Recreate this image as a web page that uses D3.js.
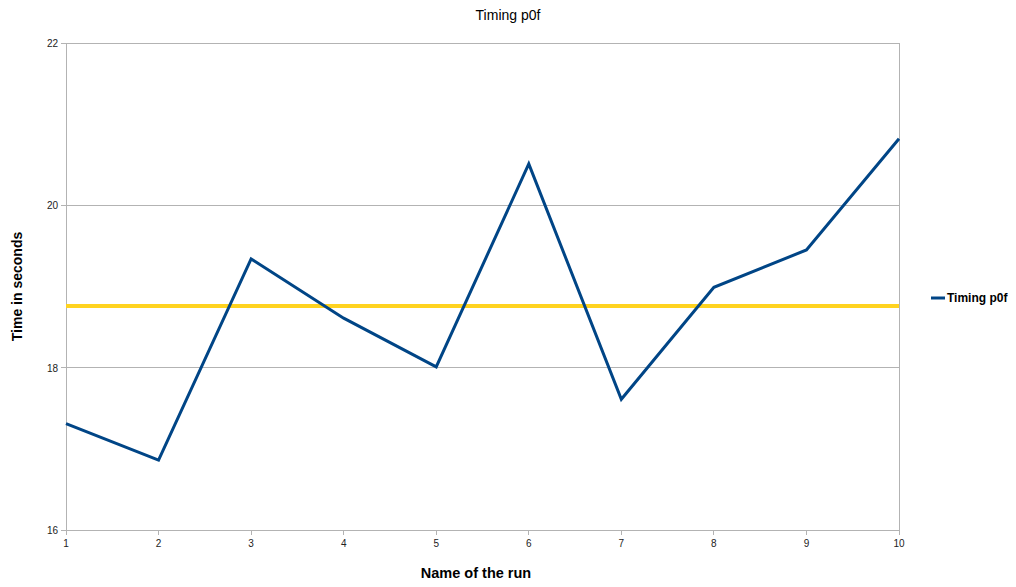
<!DOCTYPE html>
<html><head><meta charset="utf-8">
<script src="https://cdn.jsdelivr.net/npm/d3@7"></script>
<style>body{margin:0;background:#fff}svg{display:block}text{font-family:"Liberation Sans",Arial,sans-serif}</style>
</head><body>
<svg id="c" width="1016" height="587"></svg>
<script>
const runs = [1,2,3,4,5,6,7,8,9,10];
const timings = [17.31,16.86,19.34,18.61,18.01,20.51,17.61,18.99,19.45,20.82];
const average = 18.76;
const yTicks = [16,18,20,22];
const seriesName = "Timing p0f";

const svg = d3.select("#c");
const L=66,R=899,T=43,B=530;
const x = d3.scaleLinear().domain([1,10]).range([L,R]);
const y = d3.scaleLinear().domain([16,22]).range([B,T]);
const grid="#b3b3b3";

// grid
svg.append("g").selectAll("line").data(yTicks).join("line")
  .attr("x1",L-5).attr("x2",R).attr("y1",d=>y(d)).attr("y2",d=>y(d))
  .attr("stroke",grid).attr("stroke-width",1).attr("shape-rendering","crispEdges");
// right border
svg.append("line").attr("x1",R).attr("x2",R).attr("y1",T).attr("y2",B+5).attr("stroke",grid).attr("shape-rendering","crispEdges");
// left axis
svg.append("line").attr("x1",L).attr("x2",L).attr("y1",T).attr("y2",B+5).attr("stroke",grid).attr("shape-rendering","crispEdges");
// x ticks
svg.append("g").selectAll("line").data(runs).join("line")
  .attr("x1",d=>x(d)).attr("x2",d=>x(d)).attr("y1",B).attr("y2",B+5)
  .attr("stroke",grid).attr("shape-rendering","crispEdges");
svg.append("g").selectAll("text").data(runs).join("text")
  .attr("x",d=>x(d)).attr("y",B+17).attr("text-anchor","middle")
  .attr("font-size",10).attr("fill","#222").text(d=>d);
svg.append("g").selectAll("text").data(yTicks).join("text")
  .attr("x",L-8).attr("y",d=>y(d)+4).attr("text-anchor","end")
  .attr("font-size",10).attr("fill","#222").text(d=>d);

// average line
svg.append("line").attr("x1",L).attr("x2",R).attr("y1",y(average)).attr("y2",y(average))
  .attr("stroke","#ffd320").attr("stroke-width",4);

// series
svg.append("path").datum(runs.map((r,i)=>[r,timings[i]]))
  .attr("d",d3.line().x(d=>x(d[0])).y(d=>y(d[1])))
  .attr("fill","none").attr("stroke","#004586").attr("stroke-width",3).attr("stroke-linejoin","miter");

// title
svg.append("text").attr("x",508).attr("y",20).attr("text-anchor","middle")
  .attr("font-size",14).attr("fill","#000").text("Timing p0f");
// axis titles
svg.append("text").attr("x",476).attr("y",578).attr("text-anchor","middle")
  .attr("font-size",14.5).attr("font-weight","bold").text("Name of the run");
svg.append("text").attr("transform",`translate(22,${(T+B)/2}) rotate(-90)`).attr("text-anchor","middle")
  .attr("font-size",14).attr("font-weight","bold").text("Time in seconds");

// legend
svg.append("line").attr("x1",931).attr("x2",945).attr("y1",298).attr("y2",298)
  .attr("stroke","#004586").attr("stroke-width",3);
svg.append("text").attr("x",947).attr("y",302).attr("font-size",12).attr("font-weight","bold").text(seriesName);
</script>
</body></html>
